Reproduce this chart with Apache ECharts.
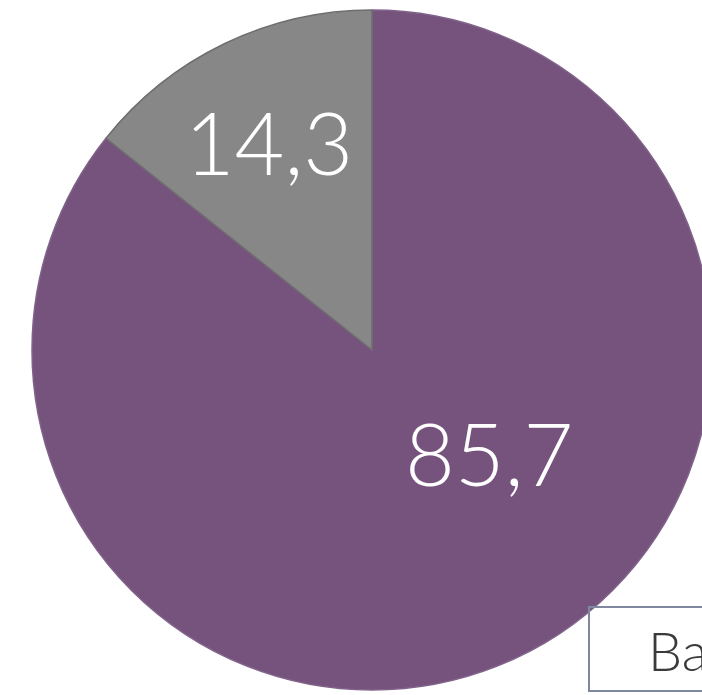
<!DOCTYPE html>
<html><head><meta charset="utf-8">
<script src="https://cdn.jsdelivr.net/npm/echarts@6/dist/echarts.min.js"></script>
<style>html,body{margin:0;padding:0;background:#fff}#c{width:702px;height:695px}</style>
</head><body><div id="c"></div>
<script>
const categories = ['Basis', 'Anders'];
const values = [85.7, 14.3];
const colors = ['#76537c', '#878787'];
const labelShift = [[42, -48], [-28, -47]];

const chart = echarts.init(document.getElementById('c'));
chart.setOption({
  animation: false,
  legend: {
    left: 589, top: 607, width: 1000,
    data: categories,
    icon: 'none', itemWidth: 0, itemGap: 60,
    padding: [20, 10, 10, 54],
    borderColor: '#7f889f', borderWidth: 2,
    textStyle: { fontFamily: 'Lato, "Open Sans", sans-serif', fontWeight: 300, fontSize: 54, color: '#3a3a3a' },
    selectedMode: false
  },
  series: [{
    type: 'pie',
    center: [372, 350],
    radius: [0, 340],
    startAngle: 90,
    clockwise: true,
    data: categories.map((n, i) => ({
      name: n, value: values[i],
      itemStyle: {
        color: colors[i],
        borderColor: i === 0 ? '#80638a' : '#6e6e6e',
        borderWidth: 1.5
      }
    })),
    label: {
      show: true, position: 'inside',
      formatter: p => String(p.value).replace('.', ','),
      color: '#ffffff', fontSize: 86, fontWeight: 300,
      fontFamily: 'Lato, "Open Sans", sans-serif'
    },
    labelLine: { show: false },
    labelLayout: p => ({ dx: labelShift[p.dataIndex][0], dy: labelShift[p.dataIndex][1] }),
    emphasis: { disabled: true }
  }]
});
</script></body></html>
